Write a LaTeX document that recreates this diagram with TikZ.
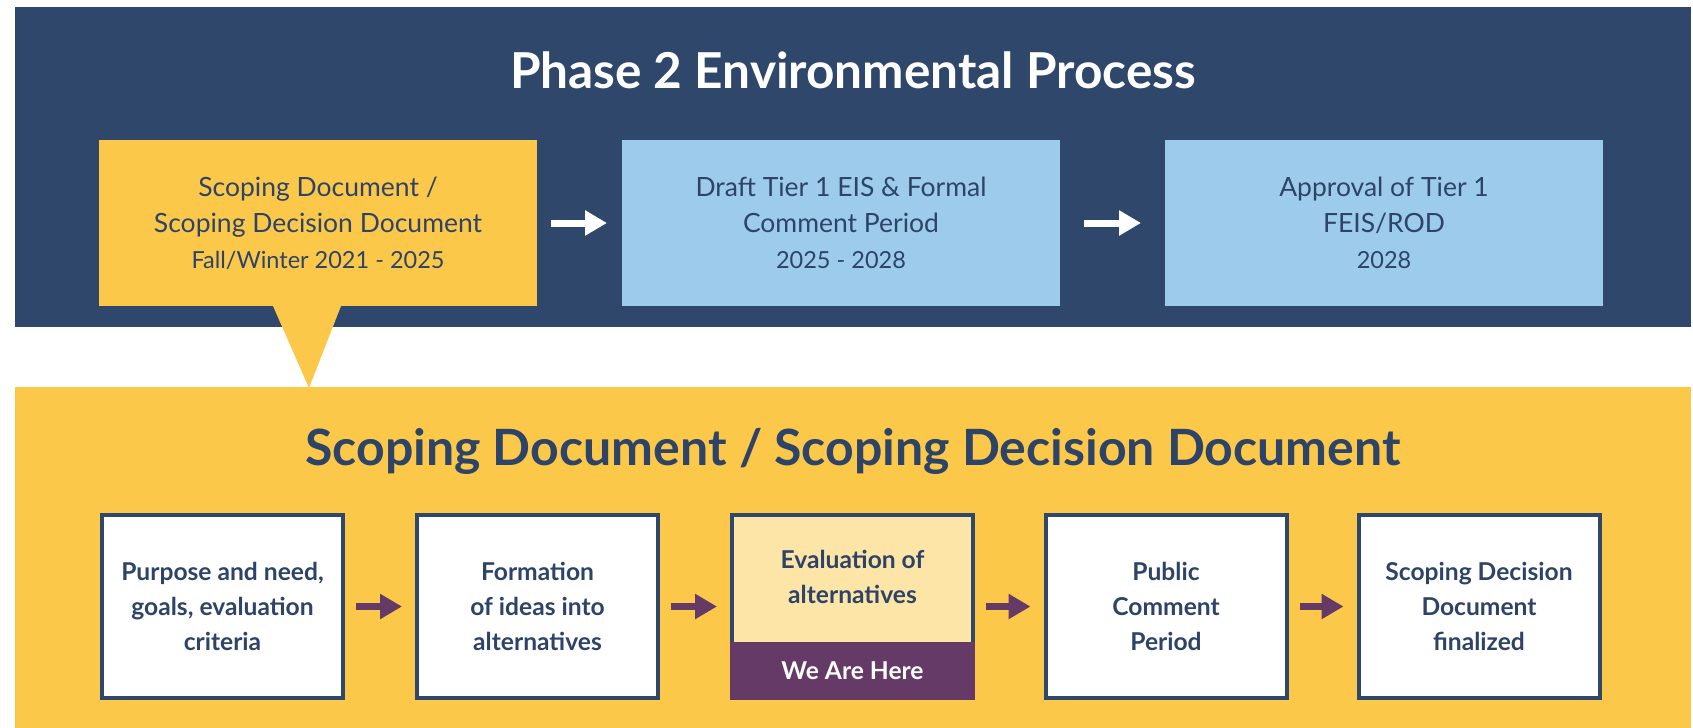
\documentclass[tikz,border=0pt]{standalone}
\usepackage{fontspec}
\setmainfont{Lato}
\usetikzlibrary{arrows.meta}
\definecolor{navy}{HTML}{2F476B}
\definecolor{txtnavy}{HTML}{2D4468}
\definecolor{gold}{HTML}{FCC84A}
\definecolor{skyb}{HTML}{9DCBEB}
\definecolor{paleyel}{HTML}{FDE5A8}
\definecolor{plum}{HTML}{653A66}
\tikzset{
  bg/.style={fill=#1, inner sep=0pt, outer sep=0pt},
  phasebox/.style={fill=#1, inner sep=0pt, outer sep=0pt, minimum width=438bp, minimum height=166bp,
     align=center, text=txtnavy, font=\fontsize{26.5bp}{36bp}\selectfont},
  stepbox/.style={draw=navy, line width=4bp, fill=#1, inner sep=0pt, minimum width=241bp, minimum height=183bp,
     align=center, text=txtnavy, font=\fontsize{24.6bp}{35bp}\selectfont\bfseries},
  whitearrow/.style={draw=white, line width=7bp, -{Triangle[length=22bp,width=24bp]}},
  plumarrow/.style={draw=plum, line width=7bp, -{Triangle[length=22bp,width=24bp]}},
}
\begin{document}
\begin{tikzpicture}[x=1bp,y=-1bp]
\useasboundingbox (0,0) rectangle (1693,728);
\fill[white] (0,0) rectangle (1693,728);
% upper band
\node[bg=navy, minimum width=1676bp, minimum height=319bp] (upper) at (853,167) {};
\node[text=white, font=\fontsize{49.5bp}{54bp}\selectfont\bfseries] (t1) at (853,70) {Phase 2 Environmental Process};
\node[phasebox=gold] (b1) at (318,223) {Scoping Document /\\Scoping Decision Document\\{\fontsize{23.5bp}{30bp}\selectfont Fall/Winter 2021 - 2025}};
\node[phasebox=skyb] (b2) at (841,223) {Draft Tier 1 EIS \& Formal\\Comment Period\\{\fontsize{23.5bp}{30bp}\selectfont 2025 - 2028}};
\node[phasebox=skyb] (b3) at (1384,223) {Approval of Tier 1\\FEIS/ROD\\{\fontsize{23.5bp}{30bp}\selectfont 2028}};
\draw[whitearrow, shorten <=14bp, shorten >=15bp] (b1.east) -- (b2.west);
\draw[whitearrow, shorten <=24bp, shorten >=24bp] (b2.east) -- (b3.west);
% lower band
\node[bg=gold, minimum width=1676bp, minimum height=341bp] (lower) at (853,557.5) {};
\coordinate (tip) at (309,388);
\fill[gold] ([xshift=-45bp]b1.south) -- ([xshift=23bp]b1.south) -- (tip) -- cycle;
\node[text=txtnavy, font=\fontsize{50bp}{56bp}\selectfont\bfseries] (t2) at (853,451) {Scoping Document / Scoping Decision Document};
\node[stepbox=white] (s1) at (222.5,606.5) {Purpose and need,\\goals, evaluation\\criteria};
\node[stepbox=white] (s2) at (537.5,606.5) {Formation\\of ideas into\\alternatives};
\node[stepbox=paleyel] (s3) at (852.5,606.5) {};
\node[stepbox=white] (s4) at (1166,606.5) {Public\\Comment\\Period};
\node[stepbox=white] (s5) at (1479,606.5) {Scoping Decision\\Document\\finalized};
\node[bg=plum, minimum width=245bp, minimum height=58bp, anchor=south, text=white,
      font=\fontsize{24.6bp}{30bp}\selectfont\bfseries] (here) at (s3.south) {We Are Here};
\node[text=txtnavy, align=center, font=\fontsize{24.6bp}{35bp}\selectfont\bfseries] (s3t) at (852.5,577) {Evaluation of\\alternatives};
\draw[plumarrow, shorten <=11bp, shorten >=13bp] (s1.east) -- (s2.west);
\draw[plumarrow, shorten <=11bp, shorten >=13bp] (s2.east) -- (s3.west);
\draw[plumarrow, shorten <=11bp, shorten >=13bp] (s3.east) -- (s4.west);
\draw[plumarrow, shorten <=11bp, shorten >=13bp] (s4.east) -- (s5.west);
\end{tikzpicture}
\end{document}
